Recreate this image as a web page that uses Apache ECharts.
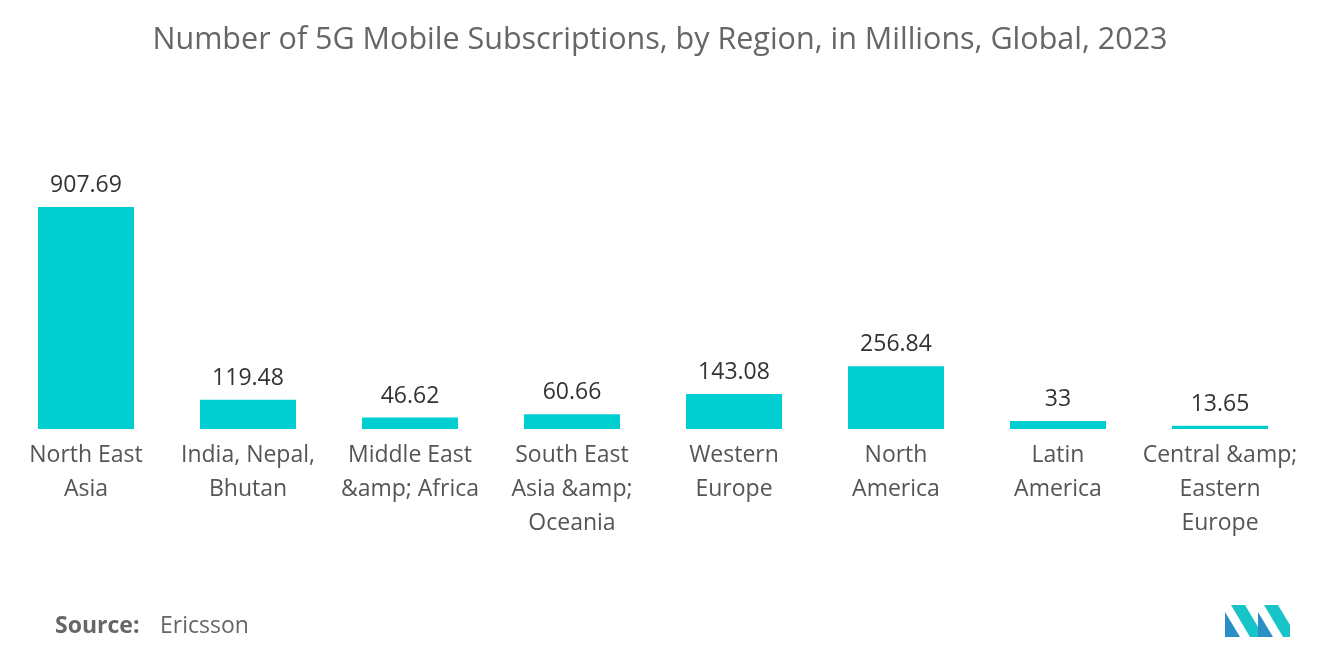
<!DOCTYPE html>
<html>
<head>
<meta charset="utf-8">
<script src="https://cdn.jsdelivr.net/npm/echarts@6/dist/echarts.min.js"></script>
<style>html,body{margin:0;padding:0;background:#fff}#chart{width:1320px;height:665px}</style>
</head>
<body>
<div id="chart"></div>
<script>
// chart data
var categories = ["North East\nAsia", "India, Nepal,\nBhutan", "Middle East\n&amp; Africa", "South East\nAsia &amp;\nOceania", "Western\nEurope", "North\nAmerica", "Latin\nAmerica", "Central &amp;\nEastern\nEurope"];
var subscriptions = [907.69, 119.48, 46.62, 60.66, 143.08, 256.84, 33, 13.65];

var FONT = "'Open Sans', Lato, sans-serif";
var myChart = echarts.init(document.getElementById("chart"));

myChart.setOption({
  animation: false,
  title: {
    text: "Number of 5G Mobile Subscriptions, by Region, in Millions, Global, 2023",
    left: "center",
    top: 20,
    textStyle: { fontFamily: FONT, fontSize: 30.5, fontWeight: "normal", color: "#666" }
  },
  grid: { left: 5, right: 19, top: 207, bottom: 236 },
  xAxis: {
    type: "category",
    data: categories,
    axisLine: { show: false },
    axisTick: { show: false },
    axisLabel: {
      interval: 0, margin: 9, color: "#555",
      fontFamily: FONT, fontSize: 23, lineHeight: 34
    }
  },
  yAxis: {
    type: "value", min: 0, max: 907.69,
    show: false, splitLine: { show: false }
  },
  series: [{
    type: "bar",
    data: subscriptions,
    barWidth: 96,
    itemStyle: { color: "#00CED1" },
    label: {
      show: true, position: "top", distance: 10, color: "#333",
      fontFamily: FONT, fontSize: 23
    }
  }],
  graphic: [
    {
      type: "text", left: 55, top: 615,
      style: { text: "Source:", font: "bold 23px " + FONT, fill: "#666" }
    },
    {
      type: "text", left: 160, top: 615,
      style: { text: "Ericsson", font: "23px " + FONT, fill: "#666" }
    },
    // logo
    { type: "polygon", shape: { points: [[1225, 637], [1225, 612], [1240, 637]] }, style: { fill: "#2a8fc4" } },
    { type: "polygon", shape: { points: [[1231, 605], [1245, 605], [1264, 637], [1250, 637]] }, style: { fill: "#17c4c7" } },
    { type: "polygon", shape: { points: [[1258, 637], [1258, 612], [1273, 637]] }, style: { fill: "#2a8fc4" } },
    { type: "polygon", shape: { points: [[1264, 605], [1278, 605], [1290, 625], [1290, 637], [1283, 637]] }, style: { fill: "#17c4c7" } }
  ]
});
</script>
</body>
</html>
